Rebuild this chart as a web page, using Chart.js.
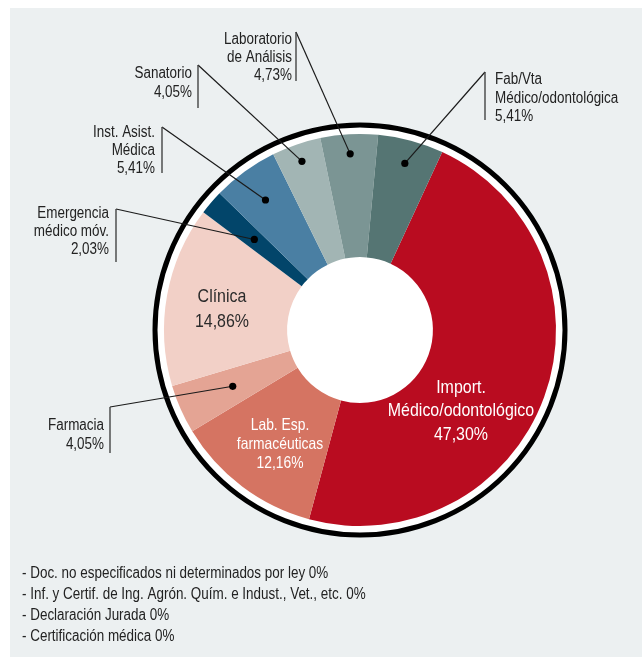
<!DOCTYPE html>
<html>
<head>
<meta charset="utf-8">
<script src="https://cdn.jsdelivr.net/npm/chart.js@4.4.1/dist/chart.umd.min.js"></script>
<style>
html,body{margin:0;padding:0;background:#ffffff;}
canvas{display:block;}
</style>
</head>
<body>
<canvas id="c" width="642" height="657" style="width:642px;height:657px"></canvas>
<script>
// ---- data ----
const categories = [
  ['Import.', 'Médico/odontológico'],
  ['Lab. Esp.', 'farmacéuticas'],
  ['Farmacia'],
  ['Clínica'],
  ['Emergencia', 'médico móv.'],
  ['Inst. Asist.', 'Médica'],
  ['Sanatorio'],
  ['Laboratorio', 'de Análisis'],
  ['Fab/Vta', 'Médico/odontológica']
];
const values = [47.30, 12.16, 4.05, 14.86, 2.03, 5.41, 4.05, 4.73, 5.41];
const colors = ['#b90c20', '#d57462', '#e4a494', '#f2d0c7', '#02456a', '#4a7fa3', '#a2b5b4', '#7b9594', '#557573'];
const notes = [
  '- Doc. no especificados ni determinados por ley 0%',
  '- Inf. y Certif. de Ing. Agrón. Quím. e Indust., Vet., etc. 0%',
  '- Declaración Jurada 0%',
  '- Certificación médica 0%'
];

// ---- label layout (annotation placement) ----
const outsideLabels = [
  {i: 7, tx: 292, align: 'right', ys: [40, 58, 76], bx: 296, b0: 32, b1: 81, rf: 0.90},
  {i: 6, tx: 192, align: 'right', ys: [74, 93], bx: 198, b0: 65, b1: 108, rf: 0.91},
  {i: 5, tx: 155, align: 'right', ys: [133, 151, 169], bx: 162, b0: 127, b1: 173, rf: 0.82},
  {i: 4, tx: 109, align: 'right', ys: [214, 232, 250], bx: 116, b0: 209, b1: 262, rf: 0.71},
  {i: 2, tx: 104, align: 'right', ys: [426, 445], bx: 110, b0: 407, b1: 453, rf: 0.71},
  {i: 8, tx: 495, align: 'left', ys: [80, 99, 117], bx: 485, b0: 72, b1: 120, rf: 0.88}
];
const insideLabels = [
  {i: 0, cx: 461, ys: [388, 411, 435], size: 19, color: '#ffffff'},
  {i: 1, cx: 280, ys: [425, 444, 463], size: 16.5, color: '#ffffff'},
  {i: 3, cx: 222, ys: [297, 322], size: 19, color: '#2b2b2b'}
];

const FONT = '"Liberation Sans", Arial, sans-serif';
const SQUEEZE = 0.84;
function pct(v){ return v.toFixed(2).replace('.', ',') + '%'; }
function drawText(ctx, text, x, y, align, size, color){
  ctx.save();
  ctx.translate(x, y);
  ctx.scale(SQUEEZE, 1);
  ctx.font = size + 'px ' + FONT;
  ctx.fillStyle = color;
  ctx.textAlign = align;
  ctx.textBaseline = 'middle';
  ctx.fillText(text, 0, 0);
  ctx.restore();
}

const decor = {
  id: 'decor',
  beforeDraw(chart){
    const ctx = chart.ctx;
    ctx.save();
    ctx.fillStyle = '#ecf0f1';
    ctx.fillRect(10, 8, chart.width - 10, chart.height - 8);
    ctx.restore();
  },
  beforeDatasetsDraw(chart){
    const ctx = chart.ctx;
    const a = chart.getDatasetMeta(0).data[0];
    ctx.save();
    ctx.beginPath();
    ctx.arc(a.x, a.y, a.outerRadius + 9, 0, Math.PI * 2);
    ctx.fillStyle = '#ffffff';
    ctx.fill();
    ctx.lineWidth = 5;
    ctx.strokeStyle = '#000000';
    ctx.stroke();
    ctx.restore();
  },
  afterDatasetsDraw(chart){
    const ctx = chart.ctx;
    const arcs = chart.getDatasetMeta(0).data;
    outsideLabels.forEach(L => {
      const a = arcs[L.i];
      const mid = (a.startAngle + a.endAngle) / 2;
      const r = a.outerRadius * L.rf;
      const dx = a.x + Math.cos(mid) * r;
      const dy = a.y + Math.sin(mid) * r;
      ctx.save();
      ctx.strokeStyle = '#1a1a1a';
      ctx.lineWidth = 1.2;
      ctx.beginPath();
      ctx.moveTo(L.bx, L.b0);
      ctx.lineTo(dx, dy);
      ctx.stroke();
      ctx.strokeStyle = '#444444';
      ctx.lineWidth = 1.4;
      ctx.beginPath();
      ctx.moveTo(L.bx, L.b0);
      ctx.lineTo(L.bx, L.b1);
      ctx.stroke();
      ctx.fillStyle = '#000000';
      ctx.beginPath();
      ctx.arc(dx, dy, 3.6, 0, Math.PI * 2);
      ctx.fill();
      ctx.restore();
      const lines = categories[L.i].concat([pct(values[L.i])]);
      lines.forEach((t, k) => drawText(ctx, t, L.tx, L.ys[k], L.align, 16, '#222222'));
    });
    insideLabels.forEach(L => {
      const lines = categories[L.i].concat([pct(values[L.i])]);
      lines.forEach((t, k) => drawText(ctx, t, L.cx, L.ys[k], 'center', L.size, L.color));
    });
    notes.forEach((t, k) => drawText(ctx, t, 22, 574 + k * 21, 'left', 16, '#222222'));
  }
};

new Chart(document.getElementById('c'), {
  type: 'doughnut',
  data: {
    labels: categories.map(c => c.join(' ')),
    datasets: [{
      data: values,
      backgroundColor: colors,
      borderWidth: 0
    }]
  },
  options: {
    responsive: false,
    animation: false,
    events: [],
    rotation: 24.8,
    cutout: '37.2%',
    layout: {padding: {left: 164, right: 86, top: 134, bottom: 131}},
    plugins: {legend: {display: false}, tooltip: {enabled: false}}
  },
  plugins: [decor]
});
</script>
</body>
</html>
